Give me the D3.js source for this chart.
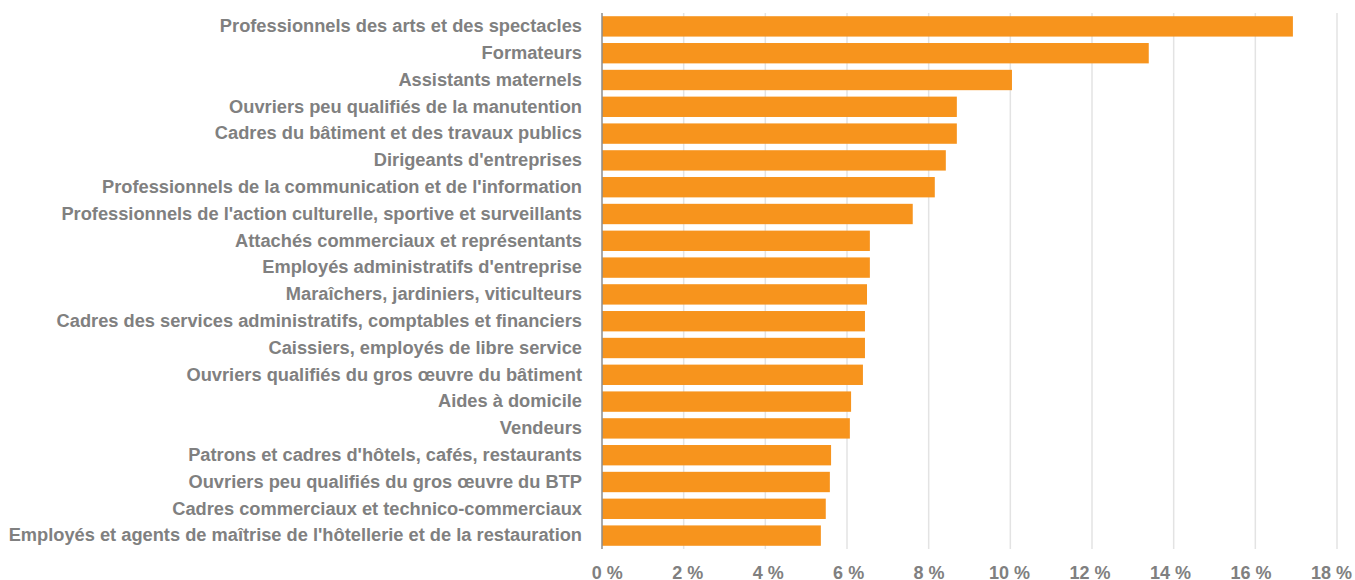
<!DOCTYPE html>
<html>
<head>
<meta charset="utf-8">
<script src="https://cdn.jsdelivr.net/npm/d3@7"></script>
<style>
  body { margin: 0; background: #fff; }
  #chart text { font-family: "Liberation Sans", Arial, sans-serif; font-weight: bold; fill: #808080; }
</style>
</head>
<body>
<div id="chart"></div>
<script>
// categories, top to bottom
var metiers = [
  "Professionnels des arts et des spectacles",
  "Formateurs",
  "Assistants maternels",
  "Ouvriers peu qualifiés de la manutention",
  "Cadres du bâtiment et des travaux publics",
  "Dirigeants d'entreprises",
  "Professionnels de la communication et de l'information",
  "Professionnels de l'action culturelle, sportive et surveillants",
  "Attachés commerciaux et représentants",
  "Employés administratifs d'entreprise",
  "Maraîchers, jardiniers, viticulteurs",
  "Cadres des services administratifs, comptables et financiers",
  "Caissiers, employés de libre service",
  "Ouvriers qualifiés du gros œuvre du bâtiment",
  "Aides à domicile",
  "Vendeurs",
  "Patrons et cadres d'hôtels, cafés, restaurants",
  "Ouvriers peu qualifiés du gros œuvre du BTP",
  "Cadres commerciaux et technico-commerciaux",
  "Employés et agents de maîtrise de l'hôtellerie et de la restauration"
];

// share in %
var valeurs = [16.92, 13.39, 10.04, 8.69, 8.69, 8.42, 8.15, 7.61, 6.56, 6.56,
               6.49, 6.44, 6.44, 6.39, 6.10, 6.07, 5.61, 5.58, 5.48, 5.36];

var ticks = [0, 2, 4, 6, 8, 10, 12, 14, 16, 18];

var data = metiers.map(function(m, i) { return {metier: m, val: valeurs[i]}; });

var svgWidth = 1355, svgHeight = 580;
var margin = {top: 13, right: 18, bottom: 31, left: 602};
var chartWidth = svgWidth - margin.left - margin.right;   // 735
var chartHeight = svgHeight - margin.top - margin.bottom;  // 536

var svg = d3.select("#chart").append("svg")
  .attr("width", svgWidth)
  .attr("height", svgHeight);

var g = svg.append("g")
  .attr("transform", `translate(${margin.left}, ${margin.top})`);

var x = d3.scaleLinear().domain([0, 18]).range([0, chartWidth]);
// the tick labels sit a bit tighter than the grid lines
var xLabel = d3.scaleLinear().domain([0, 18]).range([4.7, chartWidth - 6]);
var y = d3.scaleBand()
  .domain(metiers)
  .range([0, chartHeight])
  .paddingInner(0.24)
  .paddingOuter(0.12);

// grid lines
g.append("g").selectAll("line")
  .data(ticks.slice(1))
  .enter()
  .append("line")
  .attr("x1", d => x(d)).attr("x2", d => x(d))
  .attr("y1", 0).attr("y2", chartHeight)
  .attr("stroke", "#e3e3e3")
  .attr("stroke-width", 1.5);

// bars
g.selectAll("rect")
  .data(data)
  .enter()
  .append("rect")
  .attr("x", 0)
  .attr("y", d => y(d.metier))
  .attr("width", d => x(d.val))
  .attr("height", y.bandwidth())
  .attr("fill", "#f7941d");

// x axis labels
var xAxis = d3.axisBottom(xLabel).tickValues(ticks).tickSize(0).tickPadding(17)
  .tickFormat(d => d + " %");
g.append("g")
  .attr("transform", `translate(0, ${chartHeight})`)
  .call(xAxis)
  .call(a => a.select(".domain").remove())
  .selectAll("text")
  .style("font-size", "18px");

// y axis labels
var yAxis = d3.axisLeft(y).tickSize(0).tickPadding(20);
g.append("g")
  .call(yAxis)
  .call(a => a.select(".domain").remove())
  .selectAll("text")
  .style("font-size", "18.25px");

// baseline
g.append("line")
  .attr("x1", 0).attr("x2", 0)
  .attr("y1", 0).attr("y2", chartHeight)
  .attr("stroke", "#8c8c8c")
  .attr("stroke-width", 1.5);
</script>
</body>
</html>
